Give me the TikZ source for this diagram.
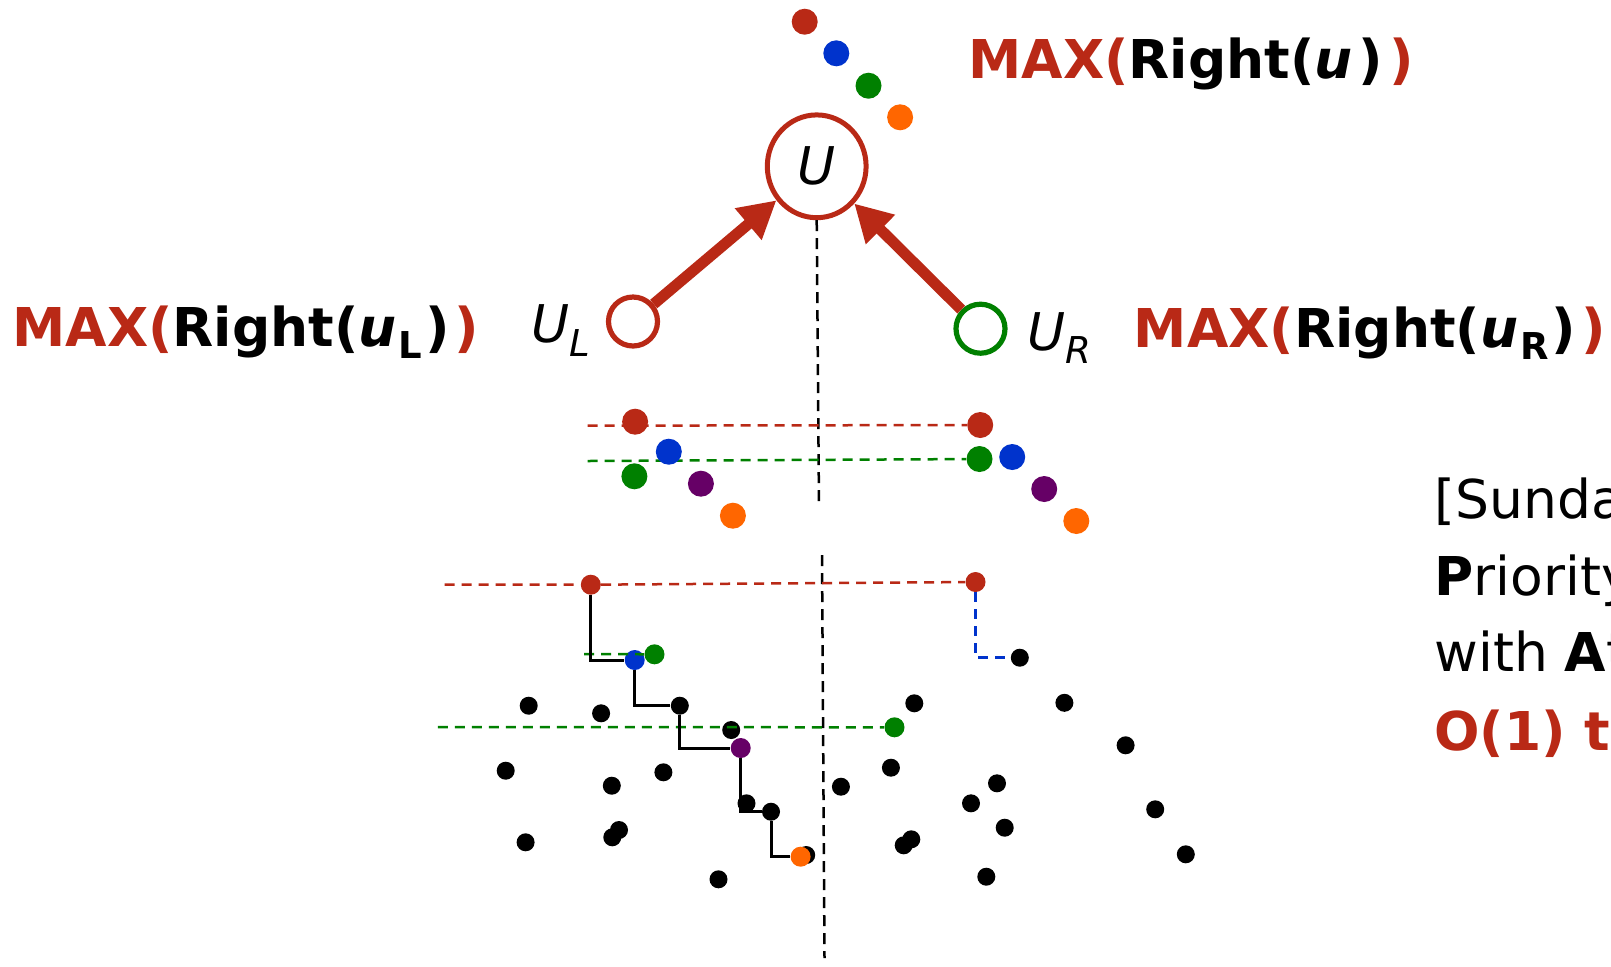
\documentclass[tikz,border=0pt]{standalone}
\usepackage{fontspec}
\setmainfont{DejaVu Sans}
\usetikzlibrary{arrows.meta,shapes.geometric}
\definecolor{cred}{RGB}{185,41,22}
\definecolor{cblue}{RGB}{0,51,204}
\definecolor{cgreen}{RGB}{0,128,0}
\definecolor{cpurple}{RGB}{102,0,102}
\definecolor{corange}{RGB}{255,102,0}
\newcommand\lowsub[2]{\raisebox{-#1}{\fontsize{18.5}{20}\selectfont #2}}
\begin{document}
\begin{tikzpicture}[x=0.5pt,y=-0.5pt,
 bigdot/.style={circle,fill=#1,inner sep=0,minimum size=13pt},
 middot/.style={circle,fill=#1,inner sep=0,minimum size=10pt},
 kdot/.style={circle,fill=black,inner sep=0,minimum size=9pt},
 lbl/.style={inner sep=0,anchor=base west,font=\fontsize{26.75}{32}\selectfont},
 ilbl/.style={inner sep=0,anchor=base west,font=\fontsize{26}{30}\selectfont\itshape},
 cdash/.style={draw=#1,line width=1.25pt,dash pattern=on 5pt off 3.5pt},
 vdash/.style={draw=black,line width=1.25pt,dash pattern=on 5.5pt off 3.5pt},
 stepline/.style={draw=black,line width=1.5pt},
 bigarrow/.style={draw=cred,line width=5.5pt,-{Triangle[length=18.5pt,width=19.5pt]}},
 ring/.style={circle,draw=#1,line width=2.6pt,inner sep=0,minimum size=24.5pt,fill=white},
 ]
\useasboundingbox (0,0) rectangle (1611,966);
\clip (0,0) rectangle (1611,966);

% ---------- tree nodes ----------
\node[ellipse,draw=cred,line width=2.5pt,fill=white,inner sep=0,minimum width=49.4pt,minimum height=51.4pt,
      font=\fontsize{26}{30}\selectfont\itshape] (U) at (816.7,166.3) {U};
\node[ring=cred] (UL) at (633,321.5) {};
\node[ring=cgreen] (UR) at (980.5,328.7) {};
\draw[bigarrow] (UL) -- (U);
\draw[bigarrow] (UR) -- (U);

% top dots
\node[bigdot=cred] (t1) at (804.7,21.7) {};
\node[bigdot=cblue] (t2) at (836.3,53.3) {};
\node[bigdot=cgreen] (t3) at (868.5,85.7) {};
\node[bigdot=corange] (t4) at (900.1,117.3) {};

% labels
\node[lbl] (topl) at (968,78.3) {\textbf{\color{cred}MAX(}\textbf{Right(\textit{u}\kern3pt)}\kern3pt\textbf{\color{cred})}};
\node[lbl] (leftl) at (12,346) {\textbf{\color{cred}MAX(}\textbf{Right(\textit{u}\kern1pt\lowsub{6pt}{L}\kern1.5pt)}\kern2.5pt\textbf{\color{cred})}};
\node[lbl] (rightl) at (1133.5,347) {\textbf{\color{cred}MAX(}\textbf{Right(\textit{u}\kern1pt\lowsub{6pt}{R}\kern1.5pt)}\kern2.5pt\textbf{\color{cred})}};
\node[ilbl] (ULlbl) at (531,342.5) {U\lowsub{7pt}{\itshape L}};
\node[ilbl] (URlbl) at (1027,350.5) {U\lowsub{6.5pt}{\itshape R}};

% vertical dashed lines
\coordinate (v1b) at (819,508);
\coordinate (v2a) at (822,555);
\coordinate (v2b) at (824.5,958);
\draw[vdash] (U.south) -- (v1b);
\draw[vdash] (v2a) -- (v2b);

% ---------- middle row ----------
\coordinate (mrs) at (587.6,425.7);
\coordinate (mgs) at (587.6,461);
\node[bigdot=cred] (mRr) at (980.2,425) {};
\node[bigdot=cgreen] (mRg) at (979.5,459) {};
\draw[cdash=cred] (mrs) -- (mRr);
\draw[cdash=cgreen] (mgs) -- (mRg);
\node[bigdot=cred] (mLr) at (635.1,421.7) {};
\node[bigdot=cblue] (mLb) at (668.8,451.7) {};
\node[bigdot=cgreen] (mLg) at (634.4,476.3) {};
\node[bigdot=cpurple] (mLp) at (700.9,483.7) {};
\node[bigdot=corange] (mLo) at (732.9,515.7) {};
\node[bigdot=cblue] (mRb) at (1012.2,457) {};
\node[bigdot=cpurple] (mRp) at (1044.2,489) {};
\node[bigdot=corange] (mRo) at (1076.3,521) {};

% ---------- lower point set ----------
\foreach \px/\py [count=\i] in {528.7/705.7, 601.1/713.3, 731.2/730, 914.3/703.3, 1064.4/702.8,
  1125.6/745.3, 505.7/770.7, 611.8/785.7, 663.4/772.3, 840.9/786.7, 890.9/767.7, 997/783.3,
  971/803.3, 1155.2/809.3, 619/830, 612.3/837.3, 525.6/842.3, 911.3/839.3, 903.7/845.3,
  1004.7/827.7, 1185.8/854.3, 718.5/879.3, 986.3/876.7, 746.5/803.3}
  \node[kdot] (p\i) at (\px,\py) {};
\node[kdot] (k1) at (679.8,705.7) {};
\node[kdot] (k2) at (771,811.7) {};
\node[kdot] (k3) at (806.2,855) {};
\node[kdot] (rk) at (1019.8,657.7) {};

\coordinate (lrs) at (444.5,584.7);
\coordinate (lgs) at (584,654);
\coordinate (lgl) at (437.8,727);
\node[middot=cred] (rr) at (975.5,582) {};
\node[middot=cgreen] (rg) at (894.5,727.3) {};
\node[middot=cred] (lr) at (590.8,584.7) {};
\node[middot=cgreen] (lg) at (654.5,654.3) {};
\node[middot=cblue] (lb) at (634.7,660) {};
\node[middot=cpurple] (lp) at (740.7,748) {};
\node[middot=corange] (lo) at (800.6,856.7) {};

\draw[cdash=cred] (lrs) -- (lr) -- (rr);
\draw[cdash=cgreen] (lgs) -- (lg);
\draw[cdash=cgreen] (lgl) -- (rg);
\draw[cdash=cblue] (rr) |- (rk);
\draw[stepline] (lr) |- (lb);
\draw[stepline] (lb) |- (k1);
\draw[stepline] (k1) |- (lp);
\draw[stepline] (lp) |- (k2);
\draw[stepline] (k2) |- (lo);

% ---------- side text (cut off at the right edge, as in the reference) ----------
\node[lbl] (s1) at (1434,518.3) {[Sunda};
\node[lbl] (s2) at (1434,595) {\textbf{P}riority};
\node[lbl] (s3) at (1434,671.7) {with \textbf{A}t};
\node[lbl,text=cred] (s4) at (1434,750) {\textbf{O(1) t}};
\end{tikzpicture}
\end{document}
